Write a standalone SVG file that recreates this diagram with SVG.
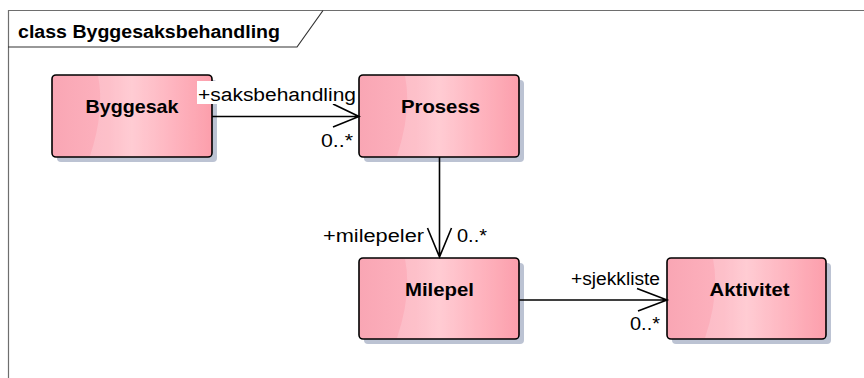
<svg xmlns="http://www.w3.org/2000/svg" width="864" height="378" viewBox="0 0 864 378">
<style>
.frame{fill:none;stroke:#6e6e6e;stroke-width:1.2}
.tab{fill:none;stroke:#333;stroke-width:1.2}
.title{font-family:"Liberation Sans",Arial,sans-serif;font-weight:bold;font-size:18px;fill:#000}
.box{fill:url(#pink);stroke:#000;stroke-width:1.6}
.hl{fill:#ffffff;opacity:0.18}
.shadow{fill:#bcc3d3}
.name{font-family:"Liberation Sans",Arial,sans-serif;font-weight:bold;font-size:19px;fill:#000;text-anchor:middle}
.lbl{font-family:"Liberation Sans",Arial,sans-serif;font-size:18px;fill:#000}
.line{fill:none;stroke:#000;stroke-width:1.6}
</style>
<defs>
<linearGradient id="pink" x1="0" y1="0" x2="1" y2="0">
<stop offset="0" stop-color="#f9a6b4"/>
<stop offset="0.35" stop-color="#fdb2be"/>
<stop offset="0.5" stop-color="#ffc1ca"/>
<stop offset="0.75" stop-color="#fea5b2"/>
<stop offset="1" stop-color="#fc8a9a"/>
</linearGradient>
</defs>
<rect width="864" height="378" fill="#ffffff"/>
<g id="frame">
<path class="frame" d="M8,10.5 H864 M8.5,10 V378"/>
<path class="tab" d="M8,47 H297 L323,10.5"/>
<text class="title" x="18" y="38" textLength="262" lengthAdjust="spacingAndGlyphs">class Byggesaksbehandling</text>
</g>
<g id="byggesak">
<rect class="shadow" x="57" y="80" width="160" height="82" rx="4"/>
<rect class="box" x="52" y="75" width="160" height="82" rx="4"/>
<path class="hl" d="M98,76 H208 Q211,76 211,79 V156 H90 Q105,110 98,76 Z"/>
<text class="name" x="132" y="113" textLength="93" lengthAdjust="spacingAndGlyphs">Byggesak</text>
</g>
<g id="prosess">
<rect class="shadow" x="364" y="80" width="160" height="82" rx="4"/>
<rect class="box" x="359" y="75" width="160" height="82" rx="4"/>
<path class="hl" d="M405,76 H515 Q518,76 518,79 V156 H397 Q412,110 405,76 Z"/>
<text class="name" x="440.5" y="113" textLength="79" lengthAdjust="spacingAndGlyphs">Prosess</text>
</g>
<g id="milepel">
<rect class="shadow" x="364" y="263" width="160" height="81" rx="4"/>
<rect class="box" x="359" y="258" width="160" height="81" rx="4"/>
<path class="hl" d="M405,259 H515 Q518,259 518,262 V338 H397 Q412,293 405,259 Z"/>
<text class="name" x="439.5" y="296" textLength="69" lengthAdjust="spacingAndGlyphs">Milepel</text>
</g>
<g id="aktivitet">
<rect class="shadow" x="672" y="263" width="159" height="81" rx="4"/>
<rect class="box" x="667" y="258" width="159" height="81" rx="4"/>
<path class="hl" d="M713,259 H822 Q825,259 825,262 V338 H705 Q720,293 713,259 Z"/>
<text class="name" x="749.5" y="296" textLength="80" lengthAdjust="spacingAndGlyphs">Aktivitet</text>
</g>
<g id="connectors">
<path class="line" d="M212,116.5 H359 M333,104 L359,116.5 L333,127"/>
<rect x="197" y="81" width="160" height="23" fill="#ffffff"/>
<text class="lbl" x="198" y="101" textLength="158" lengthAdjust="spacingAndGlyphs">+saksbehandling</text>
<text class="lbl" x="321" y="147" textLength="32" lengthAdjust="spacingAndGlyphs">0..*</text>
<path class="line" d="M439.5,157 V258 M427.5,228 L439.5,257 L451.5,228"/>
<text class="lbl" x="323" y="242" textLength="101" lengthAdjust="spacingAndGlyphs">+milepeler</text>
<text class="lbl" x="457" y="242" textLength="30" lengthAdjust="spacingAndGlyphs">0..*</text>
<path class="line" d="M519,300 H667 M637,288.5 L667,300 L638,311"/>
<text class="lbl" x="571" y="285" textLength="89" lengthAdjust="spacingAndGlyphs">+sjekkliste</text>
<text class="lbl" x="630" y="330" textLength="30" lengthAdjust="spacingAndGlyphs">0..*</text>
</g>
</svg>
